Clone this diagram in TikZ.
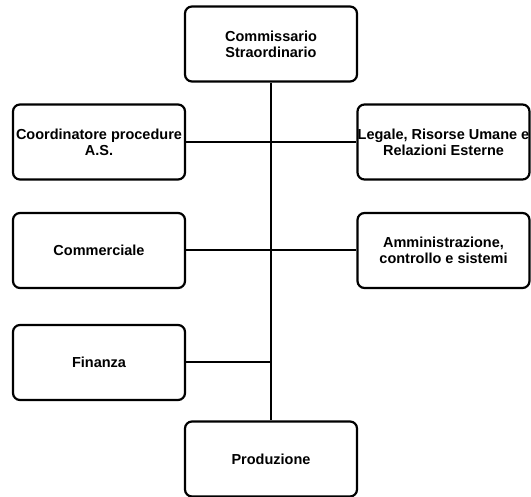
\documentclass[tikz,border=0pt]{standalone}
\usepackage{fontspec}
\setmainfont{Liberation Sans}
\begin{document}
\begin{tikzpicture}[x=1pt,y=-1pt,
  orgbox/.style={draw=black, line width=2.2pt, rounded corners=7pt, fill=white,
    minimum width=172pt, minimum height=75pt, inner sep=0pt, align=center,
    font=\fontsize{14.5}{16}\selectfont\bfseries},
  link/.style={draw=black, line width=2pt}]
\useasboundingbox (0,0) rectangle (531,497);
\node[orgbox] (top) at (271,44) {Commissario\\Straordinario};
\node[orgbox] (coord) at (99,142) {Coordinatore procedure\\A.S.};
\node[orgbox] (legale) at (443.5,142) {Legale, Risorse Umane e\\Relazioni Esterne};
\node[orgbox] (comm) at (99,250.5) {Commerciale};
\node[orgbox] (amm) at (443.5,250.5) {Amministrazione,\\controllo e sistemi};
\node[orgbox] (fin) at (99,362.5) {Finanza};
\node[orgbox] (prod) at (271,459) {Produzione};
\coordinate (j1) at (top.south |- coord.east);
\coordinate (j2) at (top.south |- comm.east);
\coordinate (j3) at (top.south |- fin.east);
\draw[link] (top.south) -- (prod.north);
\draw[link] (coord.east) -- (j1);
\draw[link] (j1) -- (legale.west);
\draw[link] (comm.east) -- (j2);
\draw[link] (j2) -- (amm.west);
\draw[link] (fin.east) -- (j3);
\end{tikzpicture}
\end{document}
